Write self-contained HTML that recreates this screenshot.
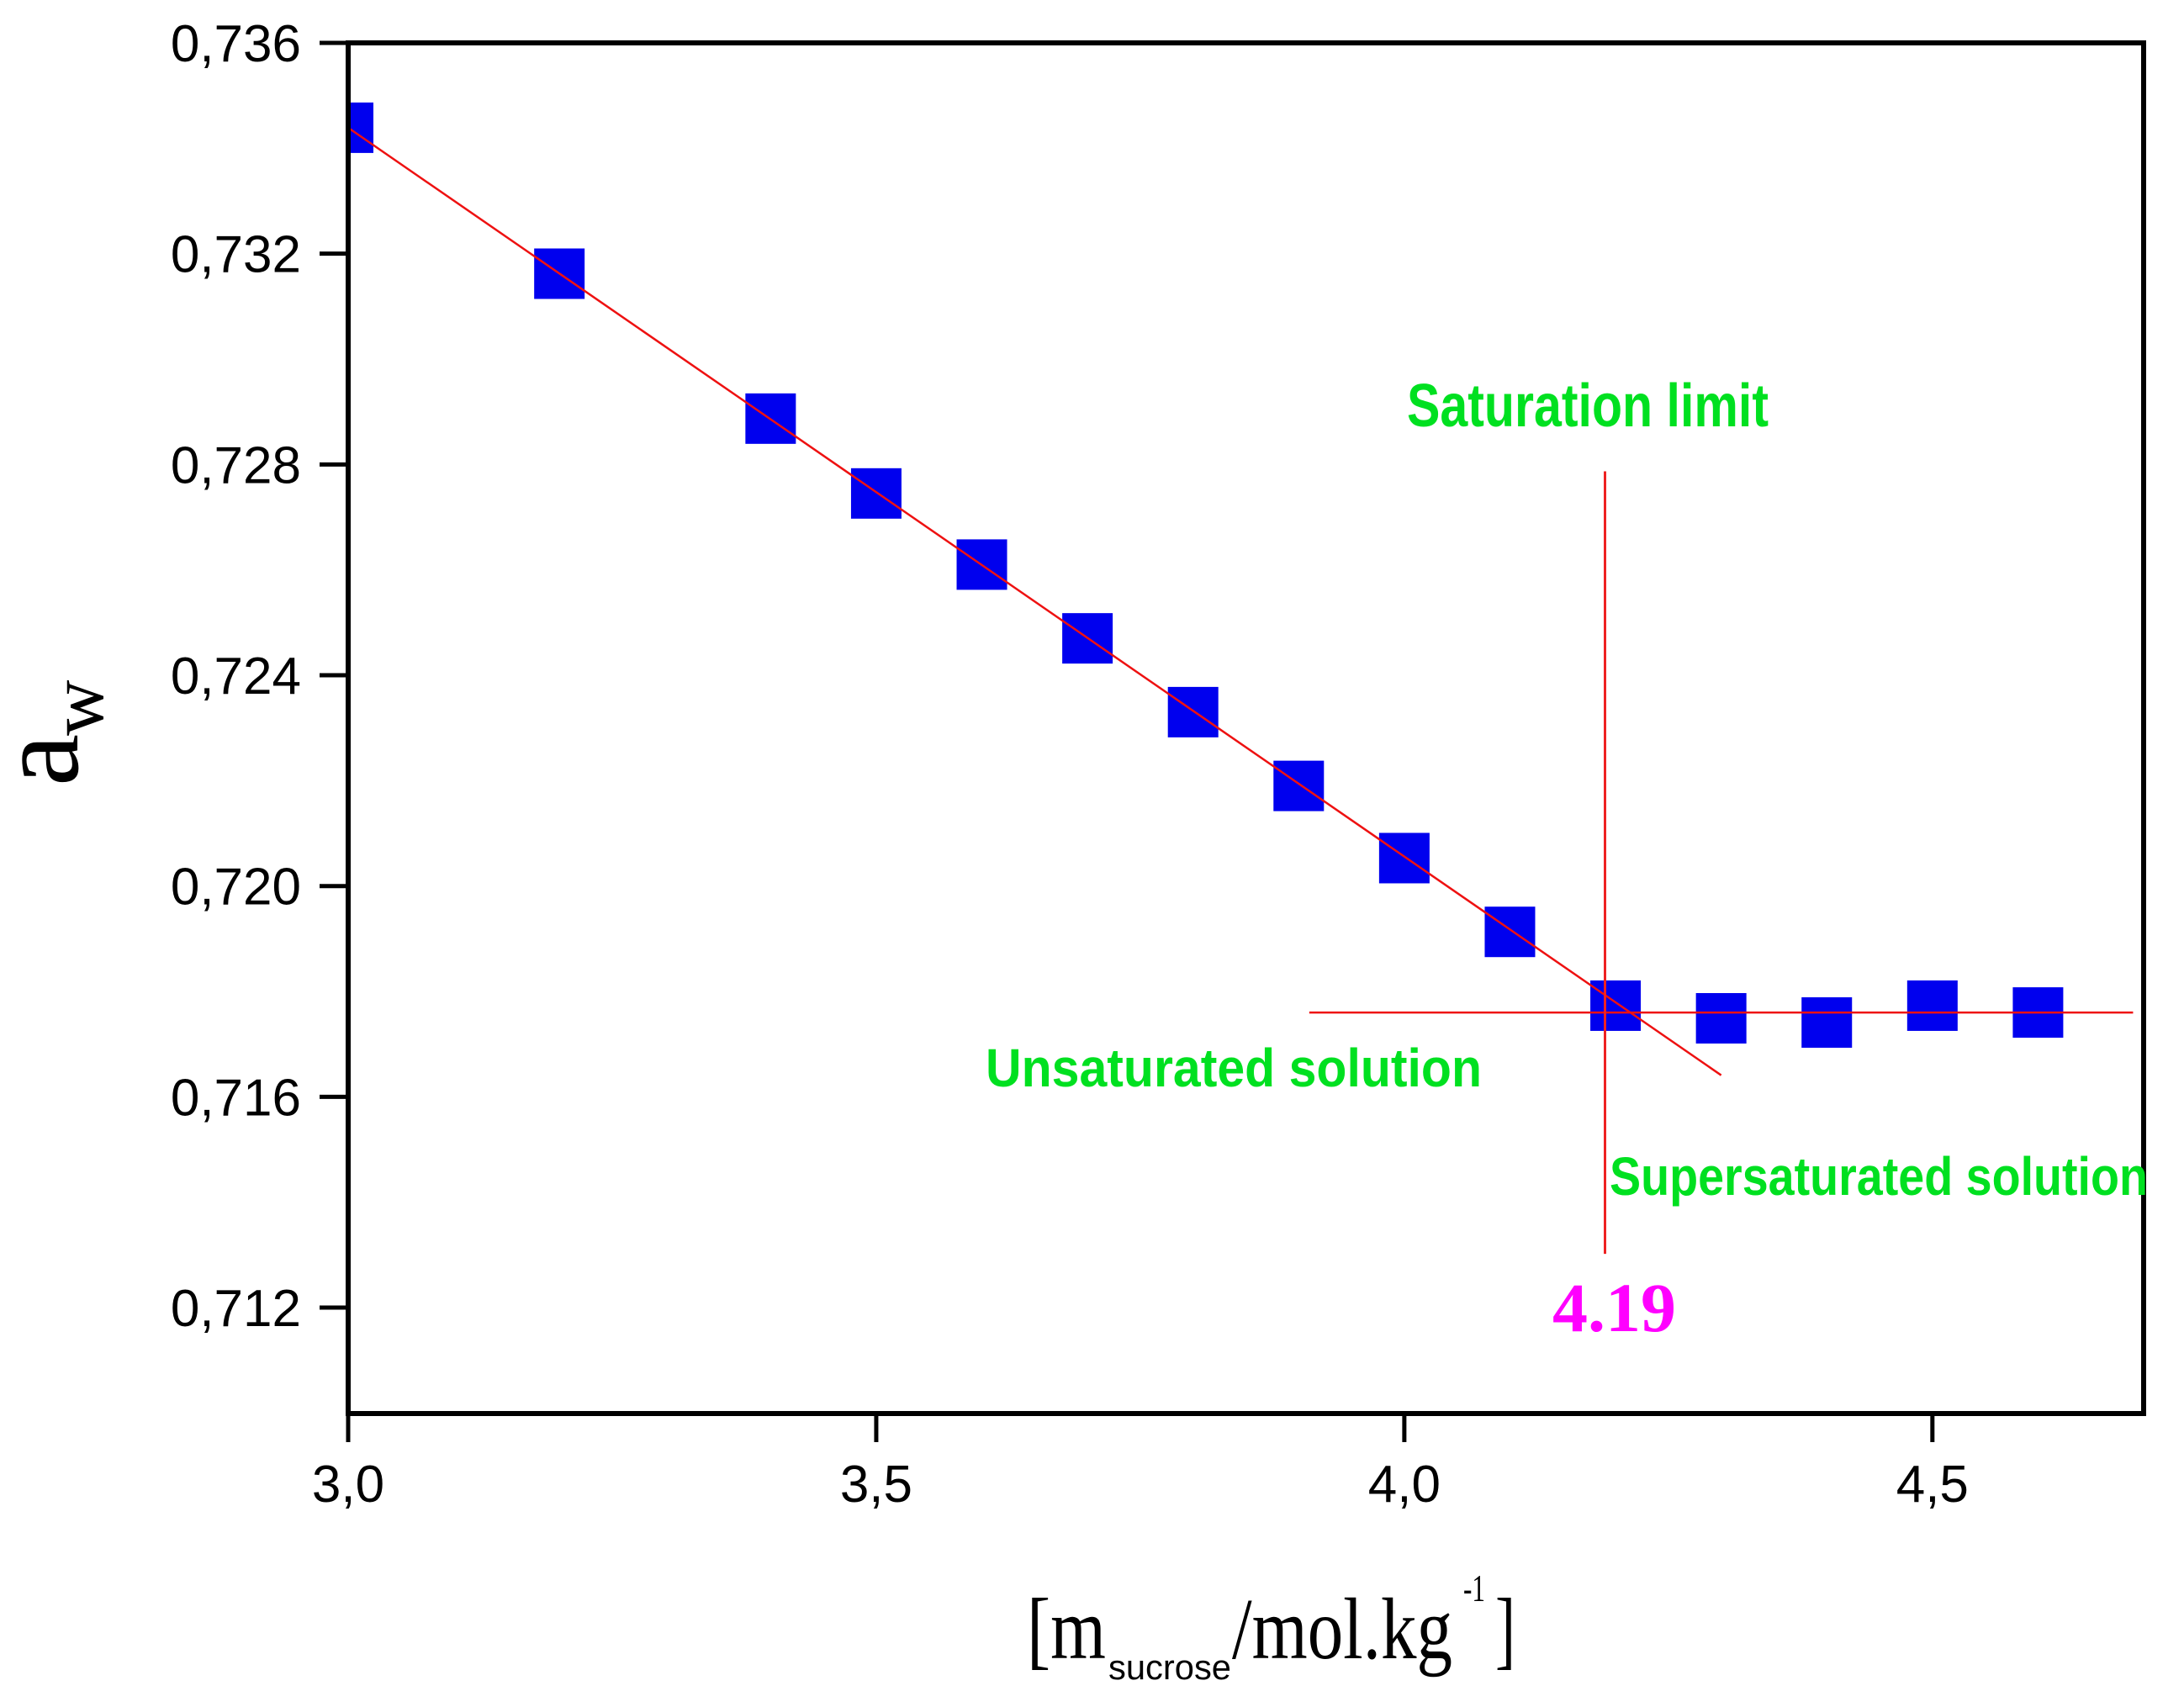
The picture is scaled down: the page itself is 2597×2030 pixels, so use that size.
<!DOCTYPE html>
<html><head><meta charset="utf-8"><style>html,body{margin:0;padding:0;background:#fff}svg{display:block}</style></head>
<body>
<svg id="chart" xmlns="http://www.w3.org/2000/svg" width="2597" height="2030" viewBox="0 0 2597 2030">
<defs><clipPath id="plotclip"><rect x="414" y="51" width="2135" height="1630"/></clipPath></defs>
<g id="plot" clip-path="url(#plotclip)"></g>
<g id="axes"></g>
<text x="1673" y="507" font-family="Liberation Sans, sans-serif" font-weight="bold" font-size="72" fill="#00e020" textLength="430" lengthAdjust="spacingAndGlyphs">Saturation limit</text>
<text x="1172" y="1292" font-family="Liberation Sans, sans-serif" font-weight="bold" font-size="64" fill="#00e020" textLength="590" lengthAdjust="spacingAndGlyphs">Unsaturated solution</text>
<text x="1914" y="1421" font-family="Liberation Sans, sans-serif" font-weight="bold" font-size="64" fill="#00e020" textLength="640" lengthAdjust="spacingAndGlyphs">Supersaturated solution</text>
<text x="1846" y="1583" font-family="Liberation Serif, serif" font-weight="bold" font-size="83" fill="#ff00ff" textLength="147" lengthAdjust="spacingAndGlyphs">4.19</text>
<g transform="translate(92,935) rotate(-90)">
<text x="0" y="0" font-family="Liberation Serif, serif" font-size="140" fill="#000">a</text>
<text x="60" y="30" font-family="Liberation Serif, serif" font-size="92" fill="#000">w</text>
</g>
<g font-family="Liberation Serif, serif" fill="#000">
<text x="1221" y="1972" font-size="104" textLength="94" lengthAdjust="spacingAndGlyphs">[m</text>
<text x="1318" y="1997" font-family="Liberation Sans, sans-serif" font-size="42" textLength="146" lengthAdjust="spacingAndGlyphs">sucrose</text>
<text x="1465" y="1972" font-size="104" textLength="262" lengthAdjust="spacingAndGlyphs">/mol.kg</text>
<text x="1740" y="1904" font-size="46" textLength="26" lengthAdjust="spacingAndGlyphs">-1</text>
<text x="1778" y="1972" font-size="104" textLength="24" lengthAdjust="spacingAndGlyphs">]</text>
</g>
</svg>
<script>
const xValues = [3.0, 3.2, 3.4, 3.5, 3.6, 3.7, 3.8, 3.9, 4.0, 4.1, 4.2, 4.3, 4.4, 4.5, 4.6];
const awValues = [0.73439, 0.73162, 0.72887, 0.72745, 0.72610, 0.72470, 0.72330, 0.72190, 0.72053, 0.71913, 0.71773, 0.71749, 0.71741, 0.71773, 0.71760];
const fitLineX = [3.0, 4.3];
const fitLineY = [0.73439, 0.71641];
const plateauX = [3.91, 4.69];
const plateauY = [0.7176, 0.7176];
const saturationX = [4.19, 4.19];
const saturationY = [0.72787, 0.71302];
const xTicks = [3.0, 3.5, 4.0, 4.5];
const xTickLabels = ["3,0", "3,5", "4,0", "4,5"];
const yTicks = [0.736, 0.732, 0.728, 0.724, 0.720, 0.716, 0.712];
const yTickLabels = ["0,736", "0,732", "0,728", "0,724", "0,720", "0,716", "0,712"];

const L = 414, R = 2549, T = 51, B = 1681;
const XMIN = 3.0, XMAX = 4.7, YMIN = 0.70999, YMAX = 0.736;
const sx = v => L + (v - XMIN) / (XMAX - XMIN) * (R - L);
const sy = v => T + (YMAX - v) / (YMAX - YMIN) * (B - T);
const NS = "http://www.w3.org/2000/svg";
function mk(tag, attrs, parent) {
  const e = document.createElementNS(NS, tag);
  for (const k in attrs) e.setAttribute(k, attrs[k]);
  parent.appendChild(e);
  return e;
}
const plot = document.getElementById('plot');
const axes = document.getElementById('axes');

for (let i = 0; i < xValues.length; i++) {
  const r = mk('rect', {x: sx(xValues[i]) - 30, y: sy(awValues[i]) - 30, width: 60, height: 60, fill: '#0000ee'}, plot);
  
  
}
const fl = mk('line', {x1: sx(fitLineX[0]), y1: sy(fitLineY[0]), x2: sx(fitLineX[1]), y2: sy(fitLineY[1]), stroke: '#ee1111', 'stroke-width': 2.5}, plot);


const pl = mk('line', {x1: sx(plateauX[0]), y1: sy(plateauY[0]), x2: sx(plateauX[1]), y2: sy(plateauY[1]), stroke: '#ee1111', 'stroke-width': 2.5}, plot);


const vl = mk('line', {x1: sx(saturationX[0]), y1: sy(saturationY[0]), x2: sx(saturationX[1]), y2: sy(saturationY[1]), stroke: '#ee2222', 'stroke-width': 3}, plot);



const fr = mk('rect', {x: L, y: T, width: R - L, height: B - T, fill: 'none', stroke: '#000', 'stroke-width': 6}, axes);


for (let i = 0; i < xTicks.length; i++) {
  const x = sx(xTicks[i]);
  const t = mk('line', {x1: x, y1: B, x2: x, y2: B + 34, stroke: '#000', 'stroke-width': 5}, axes);
  
  
  const lb = mk('text', {x: x, y: 1786, 'text-anchor': 'middle', 'font-family': 'Liberation Sans, sans-serif', 'font-size': 62, fill: '#000'}, axes);
  lb.textContent = xTickLabels[i];
  
  
}
for (let i = 0; i < yTicks.length; i++) {
  const y = sy(yTicks[i]);
  const t = mk('line', {x1: L - 34, y1: y, x2: L, y2: y, stroke: '#000', 'stroke-width': 5}, axes);
  
  
  const lb = mk('text', {x: 358, y: y + 22, 'text-anchor': 'end', 'font-family': 'Liberation Sans, sans-serif', 'font-size': 62, fill: '#000'}, axes);
  lb.textContent = yTickLabels[i];
  
  
}
</script>
</body></html>
